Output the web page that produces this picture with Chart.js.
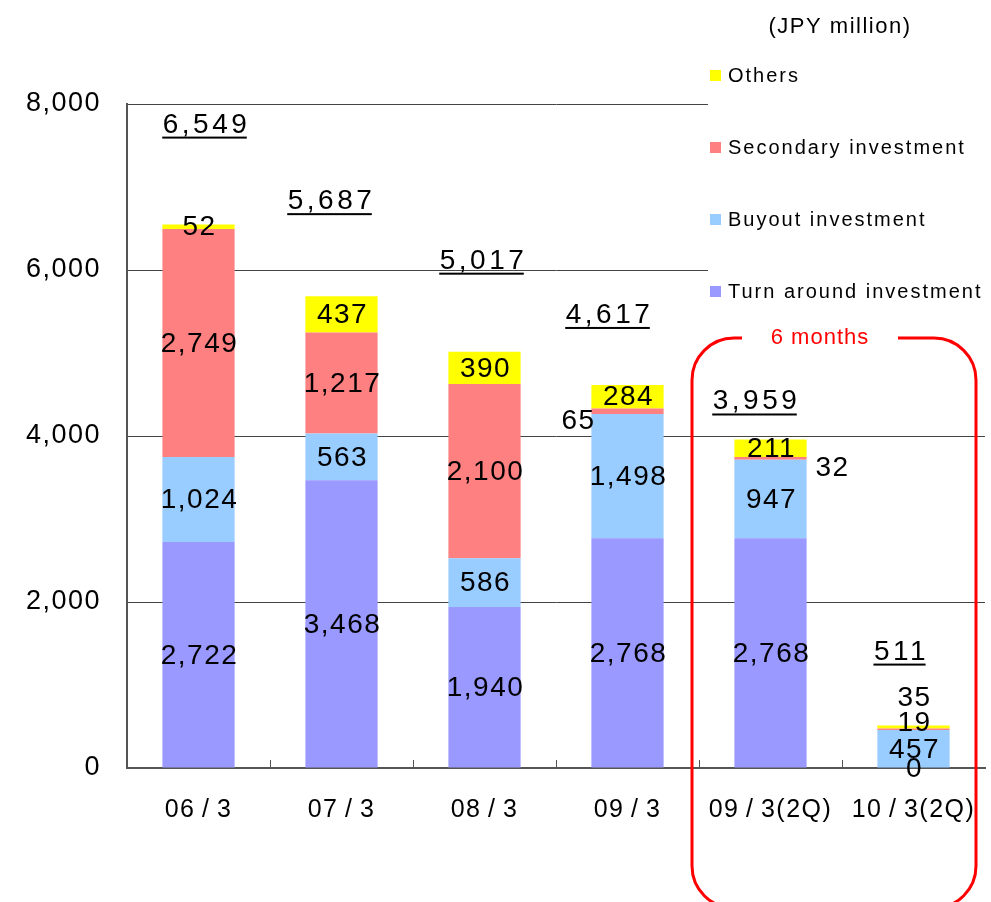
<!DOCTYPE html>
<html lang="en">
<head>
<meta charset="UTF-8">
<title>Investment by type</title>
<script src="https://cdn.jsdelivr.net/npm/chart.js"></script>
<style>
  html, body { margin: 0; padding: 0; background: #fff; overflow: hidden; }
  canvas { display: block; }
</style>
</head>
<body>
<canvas id="chart" width="991" height="902"></canvas>
<script>
// values in JPY million
const categories = ['06/3', '07/3', '08/3', '09/3', '09/3(2Q)', '10/3(2Q)'];
const turnaround = [2722, 3468, 1940, 2768, 2768, 0];
const buyout     = [1024, 563, 586, 1498, 947, 457];
const secondary  = [2749, 1217, 2100, 65, 32, 19];
const others     = [52, 437, 390, 284, 211, 35];
const totals     = [6549, 5687, 5017, 4617, 3959, 511];
const yTicks     = [0, 2000, 4000, 6000, 8000];

const FONT = '"Liberation Sans", Arial, sans-serif';
const fmt = v => v.toLocaleString('en-US');

// where a segment label can't sit in the middle of its bar
const labelShift = {
  '2-3': [-50, 9],   // 65, left of bar
  '2-4': [61, 9],    // 32, right of bar
  '2-5': [0, -7],
  '3-5': [0, -30]
};
// total labels, pixel offset from bar top
const totalShift = [[6, -102], [-12, -97], [-3, -93], [-20, -72], [-16, -40], [-14, -76]];

const annotate = {
  id: 'annotate',
  beforeDraw(chart) {
    chart.ctx.letterSpacing = '1.5px';
  },
  afterDatasetsDraw(chart) {
    const ctx = chart.ctx;
    ctx.save();
    ctx.fillStyle = '#000';
    ctx.font = '28px ' + FONT;
    ctx.letterSpacing = '1.5px';
    ctx.textAlign = 'center';
    ctx.textBaseline = 'middle';
    chart.data.datasets.forEach((ds, i) => {
      const meta = chart.getDatasetMeta(i);
      meta.data.forEach((bar, j) => {
        const s = labelShift[i + '-' + j] || [0, 0];
        const cy = (bar.y + bar.base) / 2;
        ctx.fillText(fmt(ds.data[j]), bar.x + s[0] + 1, cy + s[1] + 1);
      });
    });

    // totals, underlined
    const top = chart.getDatasetMeta(chart.data.datasets.length - 1);
    ctx.font = '28px ' + FONT;
    ctx.letterSpacing = '3.5px';
    ctx.textBaseline = 'alphabetic';
    totals.forEach((t, j) => {
      const bar = top.data[j];
      const s = totalShift[j];
      const txt = fmt(t);
      const x = bar.x + s[0];
      const y = bar.y + s[1] + 10;
      ctx.fillText(txt, x + 2, y);
      const w = ctx.measureText(txt).width - 3;
      ctx.fillRect(x - w / 2, y + 4, w, 2);
    });
    ctx.restore();
  },
  afterDraw(chart) {
    const ctx = chart.ctx;
    const xs = chart.scales.x, ys = chart.scales.y;
    const area = chart.chartArea;
    ctx.save();

    // small inside ticks at category boundaries
    ctx.strokeStyle = '#555';
    ctx.lineWidth = 1;
    for (let k = 1; k < categories.length; k++) {
      const bx = Math.round((xs.getPixelForValue(k - 1) + xs.getPixelForValue(k)) / 2) + 0.5;
      ctx.beginPath();
      ctx.moveTo(bx, area.bottom);
      ctx.lineTo(bx, area.bottom - 8);
      ctx.stroke();
    }

    // legend box on top of the grid
    ctx.fillStyle = '#fff';
    ctx.fillRect(708, 48, 283, 258);
    ctx.fillStyle = '#000';
    ctx.font = '22px ' + FONT;
    ctx.letterSpacing = '1.5px';
    ctx.textAlign = 'center';
    ctx.textBaseline = 'middle';
    ctx.fillText('(JPY million)', 840, 27);

    ctx.font = '20px ' + FONT;
    ctx.letterSpacing = '2px';
    ctx.textAlign = 'left';
    const rows = chart.data.datasets.slice().reverse();
    rows.forEach((ds, r) => {
      const ly = 75 + r * 72;
      ctx.fillStyle = ds.backgroundColor;
      ctx.fillRect(710, ly - 5, 11, 11);
      ctx.fillStyle = '#000';
      ctx.fillText(ds.label, 728, ly + 1);
    });

    // 6 months frame
    const left = (xs.getPixelForValue(3) + xs.getPixelForValue(4)) / 2 - 7;
    const right = area.right - 9;
    const topY = ys.getPixelForValue(5180);
    const bottom = chart.height + 6;
    ctx.strokeStyle = '#ff0000';
    ctx.lineWidth = 3;
    ctx.beginPath();
    ctx.roundRect(left, topY, right - left, bottom - topY, 42);
    ctx.stroke();
    const cx = (left + right) / 2 - 14;
    ctx.fillStyle = '#fff';
    ctx.fillRect(cx - 78, topY - 6, 156, 12);
    ctx.fillStyle = '#ff0000';
    ctx.font = '22px ' + FONT;
    ctx.letterSpacing = '1px';
    ctx.textAlign = 'center';
    ctx.fillText('6 months', cx, topY);
    ctx.restore();
  }
};

new Chart(document.getElementById('chart'), {
  type: 'bar',
  data: {
    labels: categories,
    datasets: [
      { label: 'Turn around investment', data: turnaround, backgroundColor: '#9999ff' },
      { label: 'Buyout investment', data: buyout, backgroundColor: '#99ccff' },
      { label: 'Secondary investment', data: secondary, backgroundColor: '#ff8080' },
      { label: 'Others', data: others, backgroundColor: '#ffff00' }
    ]
  },
  options: {
    responsive: false,
    animation: false,
    devicePixelRatio: 1,
    layout: { autoPadding: false, padding: { top: 104, right: 6, left: 0, bottom: 0 } },
    datasets: { bar: { categoryPercentage: 1, barPercentage: 0.505, borderWidth: 0 } },
    plugins: {
      legend: { display: false },
      tooltip: { enabled: false }
    },
    scales: {
      x: {
        stacked: true,
        grid: { display: false, drawTicks: false },
        border: { color: '#555', width: 2 },
        ticks: {
          color: '#000', font: { family: FONT, size: 25 }, padding: 27, maxRotation: 0,
          callback: (v, i) => categories[i].replace('/', '\u2009/\u2009')
        },
        afterFit: s => { s.height = 134; s.paddingLeft = 0; s.paddingRight = 0; }
      },
      y: {
        stacked: true,
        min: 0,
        max: 8000,
        afterBuildTicks: s => { s.ticks = yTicks.map(v => ({ value: v })); },
        grid: { color: '#444', drawTicks: false },
        border: { color: '#555', width: 2 },
        ticks: { color: '#000', font: { family: FONT, size: 27 }, padding: 26, callback: v => fmt(v) },
        afterFit: s => { s.width = 127; s.paddingTop = 0; s.paddingBottom = 0; }
      }
    }
  },
  plugins: [annotate]
});
</script>
</body>
</html>
